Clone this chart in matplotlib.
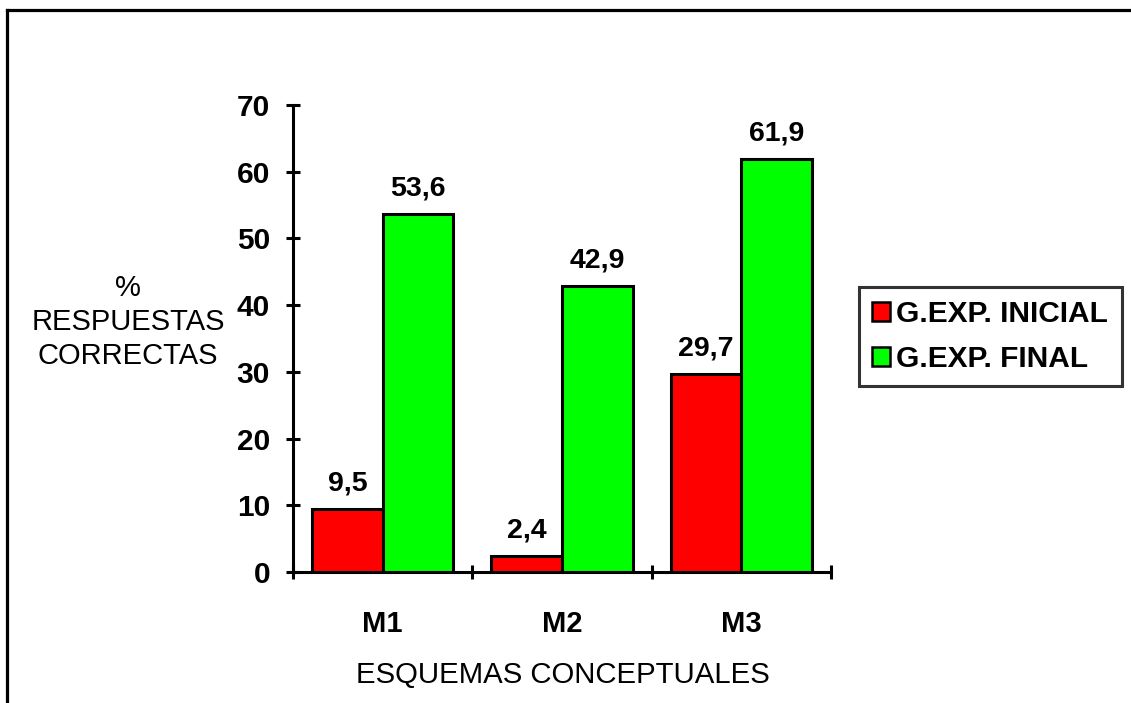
import matplotlib
matplotlib.use("Agg")
import matplotlib.pyplot as plt
from matplotlib.lines import Line2D
import numpy as np

plt.rcParams['font.family'] = ['Liberation Sans', 'DejaVu Sans']

categories = ["M1", "M2", "M3"]
series_names = ["G.EXP. INICIAL", "G.EXP. FINAL"]
inicial = [9.5, 2.4, 29.7]
final = [53.6, 42.9, 61.9]
y_ticks = [0, 10, 20, 30, 40, 50, 60, 70]
colors = ["#FF0000", "#00FF00"]

W, H = 1131, 703
fig = plt.figure(figsize=(W / 100, H / 100), dpi=100)

# outer frame (open to the right and bottom)
fig.add_artist(Line2D([7 / W, 1.02], [1 - 10 / H, 1 - 10 / H], color="black", lw=2.3,
                      transform=fig.transFigure))
fig.add_artist(Line2D([7 / W, 7 / W], [-0.02, 1 - 10 / H], color="black", lw=2.3,
                      transform=fig.transFigure))

left, right, top, bottom = 293, 831, 105, 572
ax = fig.add_axes([left / W, 1 - bottom / H, (right - left) / W, (bottom - top) / H])

x = np.arange(len(categories))
bw = 0.394
b1 = ax.bar(x - bw / 2, inicial, bw, color=colors[0], edgecolor="black", linewidth=2.2,
            label=series_names[0], zorder=3)
b2 = ax.bar(x + bw / 2, final, bw, color=colors[1], edgecolor="black", linewidth=2.2,
            label=series_names[1], zorder=3)

for bars, vals in ((b1, inicial), (b2, final)):
    for rect, v in zip(bars, vals):
        ax.annotate(f"{v:.1f}".replace(".", ","),
                    (rect.get_x() + rect.get_width() / 2, v),
                    xytext=(0, 9), textcoords="offset points",
                    ha="center", va="bottom", fontsize=20.5, fontweight="bold")

ax.set_xlim(-0.5, len(categories) - 0.5)
ax.set_ylim(0, 70)
ax.set_yticks(y_ticks)
ax.set_yticklabels([str(t) for t in y_ticks], fontsize=21.5, fontweight="bold")
ax.set_xticks(x)
ax.set_xticklabels(categories, fontsize=21, fontweight="bold")
ax.set_xticks(np.arange(len(categories) + 1) - 0.5, minor=True)
ax.tick_params(axis="x", which="major", length=0, pad=27)
ax.tick_params(axis="x", which="minor", direction="inout", length=10, width=2.2)
ax.tick_params(axis="y", direction="inout", length=10, width=2.2, pad=11.5)

for s in ("top", "right"):
    ax.spines[s].set_visible(False)
for s in ("left", "bottom"):
    ax.spines[s].set_linewidth(2.2)

fig.text(563 / W, 1 - 675 / H, "ESQUEMAS CONCEPTUALES", ha="center", va="center",
         fontsize=21.2)
fig.text(128 / W, 1 - 322 / H, "%\nRESPUESTAS\nCORRECTAS", ha="center", va="center",
         fontsize=21, linespacing=1.25, multialignment="center")

leg = fig.legend(handles=[b1, b2], labels=series_names,
                 loc="upper left", bbox_to_anchor=(859 / W, 1 - 287 / H),
                 frameon=True, fancybox=False, edgecolor="black",
                 prop={"size": 21.5, "weight": "bold"},
                 handlelength=0.6, handleheight=0.6, handletextpad=0.2,
                 borderpad=0.45, labelspacing=0.55, borderaxespad=0)
leg.get_frame().set_linewidth(2.2)
for h in leg.legend_handles:
    h.set_linewidth(1.8)

fig.savefig("out.png", dpi=100)
